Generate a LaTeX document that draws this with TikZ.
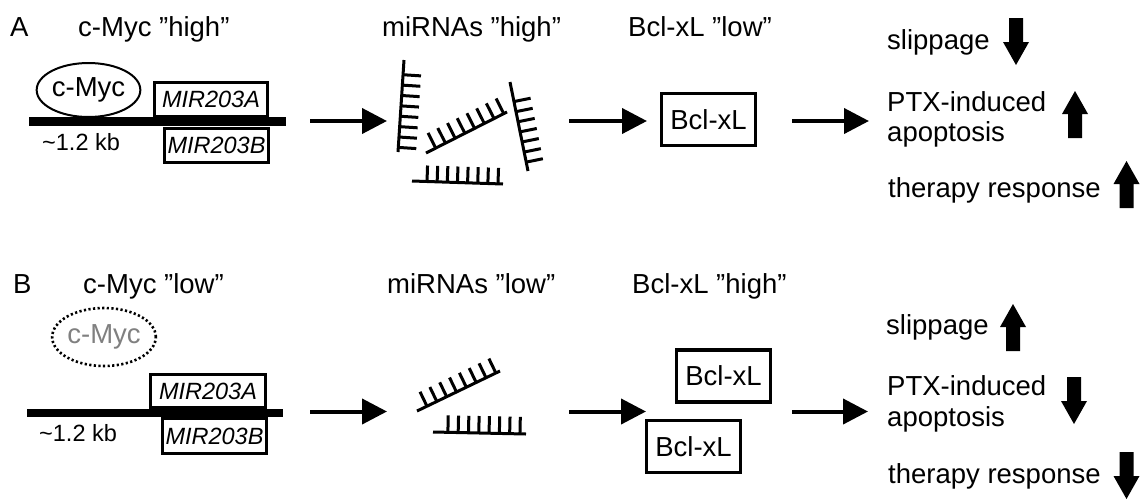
\documentclass[tikz,border=0pt]{standalone}
\usepackage{fontspec}
\setmainfont{Liberation Sans}
\usetikzlibrary{arrows.meta,calc,shapes.geometric}
\newcommand\mirstrand[6]{%
  \draw[strand] #1 -- #2;
  \foreach \k in {1,...,#3}{%
    \pgfmathsetmacro\tpos{#4+(\k-1)*(#5-#4)/(#3-1)}%
    \coordinate (mtp) at ($#1!\tpos!#2$);
    \draw[strand] (mtp) -- ($(mtp)!#6!90:#2$);
  }}
\begin{document}
\begin{tikzpicture}[x=1pt,y=-1pt,
  lbl/.style={inner sep=0pt, anchor=base west, font=\fontsize{27.5}{33}\selectfont},
  smalllbl/.style={inner sep=0pt, anchor=base west, font=\fontsize{23.5}{28}\selectfont},
  mirbox/.style={draw, line width=3pt, inner sep=0pt, font=\fontsize{23.5}{28}\selectfont\itshape},
  bclbox/.style={draw, line width=3.5pt, inner sep=0pt, minimum width=94pt, minimum height=52pt, font=\fontsize{27.5}{33}\selectfont},
  mycell/.style={ellipse, draw, line width=2pt, inner sep=0pt, font=\fontsize{27.5}{33}\selectfont},
  gene/.style={fill=black, inner sep=0pt},
  conn/.style={line width=4pt, -{Triangle[length=25pt,width=25pt]}},
  strand/.style={line width=3pt},
  bigup/.pic={\fill (-7,0) -- (-7,-24) -- (-13,-24) -- (0,-47) -- (13,-24) -- (7,-24) -- (7,0) -- cycle;},
  bigdown/.pic={\fill (-7,0) -- (-7,24) -- (-13,24) -- (0,47) -- (13,24) -- (7,24) -- (7,0) -- cycle;}
]
\useasboundingbox (0,0) rectangle (1140,499);

% ================= Panel A =================
\node[lbl] (labA) at (10,36) {A};
\node[lbl] (tA1) at (78,36) {c-Myc ”high”};
\node[lbl] (tA2) at (382,36) {miRNAs ”high”};
\node[lbl] (tA3) at (628,36) {Bcl-xL ”low”};

\node[gene, minimum width=257pt, minimum height=9pt] (geneA) at (157.5,121.5) {};
\node[mycell, minimum width=95pt, minimum height=54pt] (mycA) at (88.5,90) {c-Myc};
\node[mirbox, minimum width=113pt, minimum height=34pt] (mirAa) at (211,99.5) {MIR203A};
\node[mirbox, minimum width=104pt, minimum height=34pt] (mirAb) at (216.5,145.5) {MIR203B};
\node[smalllbl] (kbA) at (42,150) {\textasciitilde1.2 kb};

\mirstrand{(404,60)}{(398,152)}{8}{0.16}{0.95}{18pt}
\mirstrand{(426,153)}{(507,112)}{8}{0.12}{0.96}{17pt}
\mirstrand{(510,82)}{(528,171)}{7}{0.22}{0.90}{17pt}
\mirstrand{(412,181)}{(503,184)}{8}{0.165}{0.945}{16pt}

\node[bclbox] (bclA) at (708.5,119.5) {Bcl-xL};

\coordinate (cA1s) at (310,121); \coordinate (cA1e) at (387,121);
\coordinate (cA2s) at (569,121); \coordinate (cA2e) at (647,121);
\coordinate (cA3s) at (792,121); \coordinate (cA3e) at (869,121);
\draw[conn] (cA1s) -- (cA1e);
\draw[conn] (cA2s) -- (cA2e);
\draw[conn] (cA3s) -- (cA3e);

\node[lbl] (slipA) at (887,49) {slippage};
\node[lbl] (ptxA) at (887,111) {PTX-induced};
\node[lbl] (apoA) at (887,141) {apoptosis};
\node[lbl] (therA) at (888,197) {therapy response};
\pic (arA1) at (1016,18) {bigdown};
\pic (arA2) at (1075,138) {bigup};
\pic (arA3) at (1126.5,208) {bigup};

% ================= Panel B =================
\node[lbl] (labB) at (13,293) {B};
\node[lbl] (tB1) at (83,293) {c-Myc ”low”};
\node[lbl] (tB2) at (387,293) {miRNAs ”low”};
\node[lbl] (tB3) at (632,293) {Bcl-xL ”high”};

\node[mycell, minimum width=96pt, minimum height=58pt, line width=2.6pt, dash pattern=on 2.2pt off 2.4pt, text=black!50] (mycB) at (104,337) {c-Myc};
\node[gene, minimum width=256pt, minimum height=8pt] (geneB) at (155,413) {};
\node[mirbox, minimum width=115pt, minimum height=33pt] (mirBa) at (208,391) {MIR203A};
\node[mirbox, minimum width=104pt, minimum height=35pt] (mirBb) at (214.5,436) {MIR203B};
\node[smalllbl] (kbB) at (39,441) {\textasciitilde1.2 kb};

\mirstrand{(417,411)}{(500,371)}{8}{0.12}{0.95}{16pt}
\mirstrand{(433,432)}{(526,434)}{8}{0.16}{0.935}{17pt}

\node[bclbox] (bclB1) at (723.5,376) {Bcl-xL};
\node[bclbox] (bclB2) at (693.5,446.5) {Bcl-xL};

\coordinate (cB1s) at (310,411.5); \coordinate (cB1e) at (387,411.5);
\coordinate (cB2s) at (569,411.5); \coordinate (cB2e) at (646,411.5);
\coordinate (cB3s) at (792,411.5); \coordinate (cB3e) at (868,411.5);
\draw[conn] (cB1s) -- (cB1e);
\draw[conn] (cB2s) -- (cB2e);
\draw[conn] (cB3s) -- (cB3e);

\node[lbl] (slipB) at (886,334) {slippage};
\node[lbl] (ptxB) at (887,395) {PTX-induced};
\node[lbl] (apoB) at (887,426) {apoptosis};
\node[lbl] (therB) at (888,483) {therapy response};
\pic (arB1) at (1013,351) {bigup};
\pic (arB2) at (1074,377) {bigdown};
\pic (arB3) at (1126.5,452) {bigdown};
\end{tikzpicture}
\end{document}
